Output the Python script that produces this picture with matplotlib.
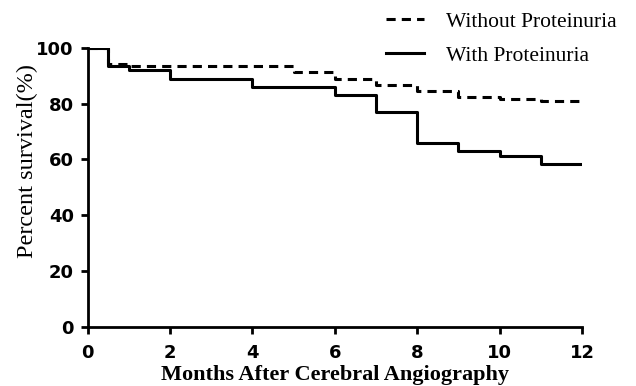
import matplotlib
matplotlib.use("Agg")
import matplotlib.pyplot as plt

# Kaplan-Meier steps (months, percent surviving)
without_t = [0, 0.5, 1, 5, 6, 7, 8, 9, 10, 11, 12]
without_s = [100, 94.3, 93.6, 91.3, 89.0, 86.8, 84.5, 82.3, 81.5, 81.0, 81.0]
with_t = [0, 0.5, 1, 2, 4, 6, 7, 8, 9, 10, 11, 12]
with_s = [100, 93.5, 92.0, 89.0, 86.0, 83.0, 77.0, 66.0, 63.0, 61.3, 58.3, 58.3]

x_ticks = [0, 2, 4, 6, 8, 10, 12]
y_ticks = [0, 20, 40, 60, 80, 100]

fig = plt.figure(figsize=(6.36, 3.86), dpi=100)
ax = fig.add_axes([0.138, 0.153, 0.777, 0.723])

ax.step(without_t, without_s, where="post", color="black", lw=2.2,
        linestyle=(0, (3, 2)), label="Without Proteinuria")
ax.step(with_t, with_s, where="post", color="black", lw=2.2,
        label="With Proteinuria")

ax.set_xlim(0, 12)
ax.set_ylim(0, 100)
ax.set_xticks(x_ticks)
ax.set_yticks(y_ticks)
for s in ["top", "right"]:
    ax.spines[s].set_visible(False)
for s in ["left", "bottom"]:
    ax.spines[s].set_linewidth(2)
ax.tick_params(width=2, length=5, labelsize=13)
ax.tick_params(axis="x", pad=7)
ax.tick_params(axis="y", pad=5)
for lab in ax.get_xticklabels() + ax.get_yticklabels():
    lab.set_fontweight("bold")
    lab.set_family("DejaVu Sans")

ax.set_xlabel("Months After Cerebral Angiography", family="Liberation Serif",
              fontweight="bold", fontsize=16, labelpad=2.5)
ax.set_ylabel("Percent survival(%)", family="Liberation Serif", fontsize=17.5)
ax.yaxis.set_label_coords(-0.1, 0.595)

fig.legend(loc="upper right", bbox_to_anchor=(1.0, 1.02), frameon=False,
           prop={"family": "Liberation Serif", "size": 15.5},
           handlelength=1.8, handletextpad=1.0, labelspacing=0.65)

fig.savefig("out.png", dpi=100)
